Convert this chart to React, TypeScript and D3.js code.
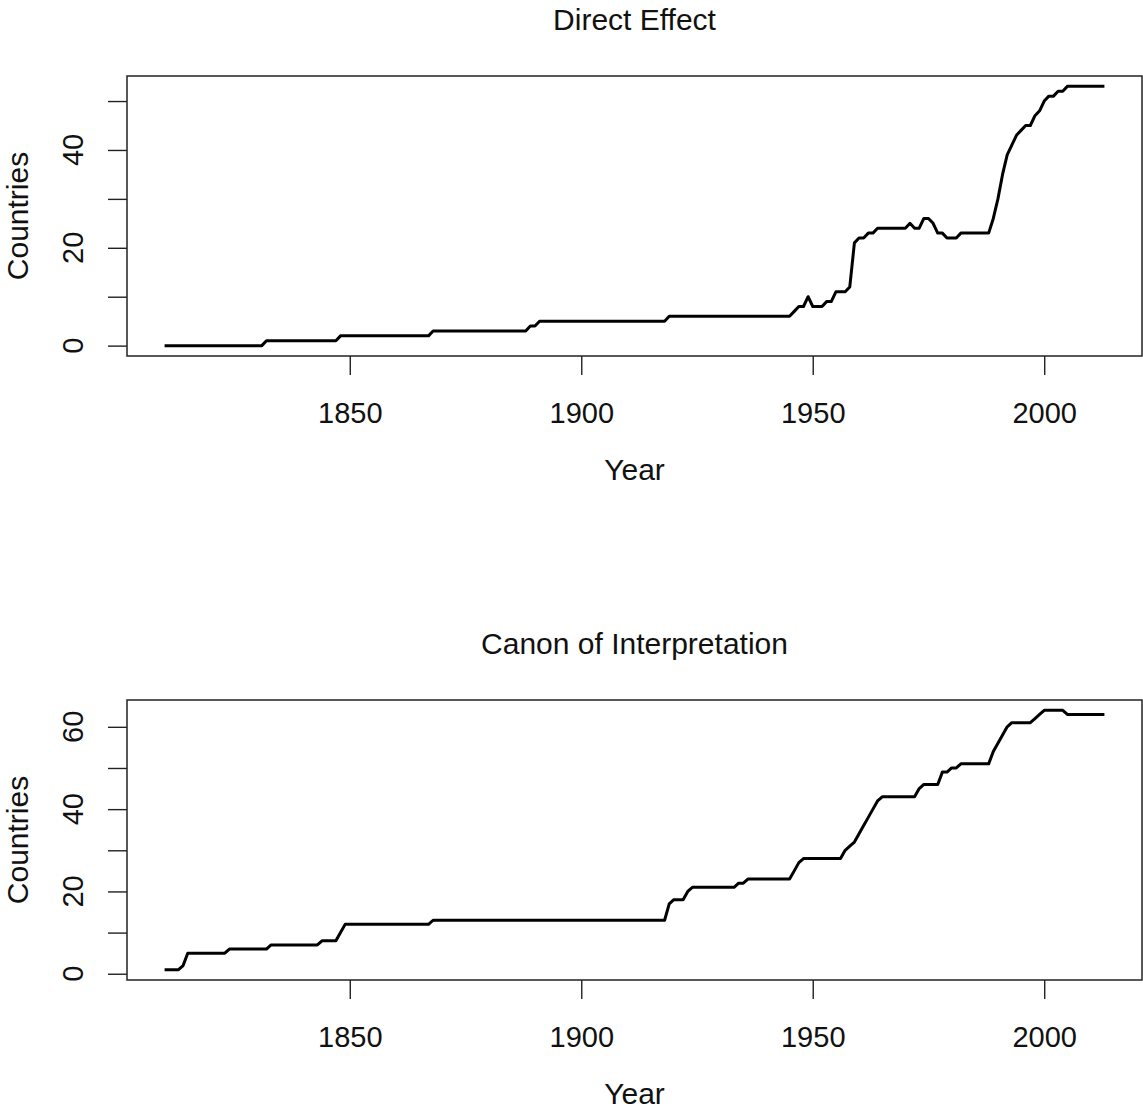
import { useRef, useEffect } from 'react';
import * as d3 from 'd3';

// yearly series, 1810-2013
const firstYear = 1810;
const lastYear = 2013;
const years = d3.range(firstYear, lastYear + 1);

const directEffect = [
  0, 0, 0, 0, 0, 0, 0, 0, 0, 0, // 1810
  0, 0, 0, 0, 0, 0, 0, 0, 0, 0, // 1820
  0, 0, 1, 1, 1, 1, 1, 1, 1, 1, // 1830
  1, 1, 1, 1, 1, 1, 1, 1, 2, 2, // 1840
  2, 2, 2, 2, 2, 2, 2, 2, 2, 2, // 1850
  2, 2, 2, 2, 2, 2, 2, 2, 3, 3, // 1860
  3, 3, 3, 3, 3, 3, 3, 3, 3, 3, // 1870
  3, 3, 3, 3, 3, 3, 3, 3, 3, 4, // 1880
  4, 5, 5, 5, 5, 5, 5, 5, 5, 5, // 1890
  5, 5, 5, 5, 5, 5, 5, 5, 5, 5, // 1900
  5, 5, 5, 5, 5, 5, 5, 5, 5, 6, // 1910
  6, 6, 6, 6, 6, 6, 6, 6, 6, 6, // 1920
  6, 6, 6, 6, 6, 6, 6, 6, 6, 6, // 1930
  6, 6, 6, 6, 6, 6, 7, 8, 8, 10, // 1940
  8, 8, 8, 9, 9, 11, 11, 11, 12, 21, // 1950
  22, 22, 23, 23, 24, 24, 24, 24, 24, 24, // 1960
  24, 25, 24, 24, 26, 26, 25, 23, 23, 22, // 1970
  22, 22, 23, 23, 23, 23, 23, 23, 23, 26, // 1980
  30, 35, 39, 41, 43, 44, 45, 45, 47, 48, // 1990
  50, 51, 51, 52, 52, 53, 53, 53, 53, 53, // 2000
  53, 53, 53, 53, // 2010
];

const canon = [
  1, 1, 1, 1, 2, 5, 5, 5, 5, 5, // 1810
  5, 5, 5, 5, 6, 6, 6, 6, 6, 6, // 1820
  6, 6, 6, 7, 7, 7, 7, 7, 7, 7, // 1830
  7, 7, 7, 7, 8, 8, 8, 8, 10, 12, // 1840
  12, 12, 12, 12, 12, 12, 12, 12, 12, 12, // 1850
  12, 12, 12, 12, 12, 12, 12, 12, 13, 13, // 1860
  13, 13, 13, 13, 13, 13, 13, 13, 13, 13, // 1870
  13, 13, 13, 13, 13, 13, 13, 13, 13, 13, // 1880
  13, 13, 13, 13, 13, 13, 13, 13, 13, 13, // 1890
  13, 13, 13, 13, 13, 13, 13, 13, 13, 13, // 1900
  13, 13, 13, 13, 13, 13, 13, 13, 13, 17, // 1910
  18, 18, 18, 20, 21, 21, 21, 21, 21, 21, // 1920
  21, 21, 21, 21, 22, 22, 23, 23, 23, 23, // 1930
  23, 23, 23, 23, 23, 23, 25, 27, 28, 28, // 1940
  28, 28, 28, 28, 28, 28, 28, 30, 31, 32, // 1950
  34, 36, 38, 40, 42, 43, 43, 43, 43, 43, // 1960
  43, 43, 43, 45, 46, 46, 46, 46, 49, 49, // 1970
  50, 50, 51, 51, 51, 51, 51, 51, 51, 54, // 1980
  56, 58, 60, 61, 61, 61, 61, 61, 62, 63, // 1990
  64, 64, 64, 64, 64, 63, 63, 63, 63, 63, // 2000
  63, 63, 63, 63, // 2010
];

const xTickValues = [1850, 1900, 1950, 2000];
const directTicks = [0, 10, 20, 30, 40, 50];
const directLabels = [0, 20, 40];
const canonTicks = [0, 10, 20, 30, 40, 50, 60];
const canonLabels = [0, 20, 40, 60];

const FONT = '"Liberation Sans", Arial, Helvetica, sans-serif';

interface PanelProps {
  title: string;
  values: number[];
  yTicks: number[];
  yLabels: number[];
  top: number; // y of plot box top
}

const width = 1143;
const height = 1111;
const boxLeft = 127;
const boxRight = 1142;
const boxHeight = 280;

// R-style 4% padding
function padded(lo: number, hi: number): [number, number] {
  const p = (hi - lo) * 0.04;
  return [lo - p, hi + p];
}

function drawPanel(
  svg: d3.Selection<SVGSVGElement, unknown, null, undefined>,
  { title, values, yTicks, yLabels, top }: PanelProps,
) {
  const bottom = top + boxHeight;
  const x = d3.scaleLinear()
    .domain(padded(firstYear, lastYear))
    .range([boxLeft, boxRight]);
  const y = d3.scaleLinear()
    .domain(padded(d3.min(values) ?? 0, d3.max(values) ?? 0))
    .range([bottom, top]);

  const g = svg.append('g');

  // title
  g.append('text')
    .attr('x', (boxLeft + boxRight) / 2)
    .attr('y', top - 46)
    .attr('text-anchor', 'middle')
    .attr('font-size', 30)
    .attr('fill', '#111')
    .text(title);

  // x axis
  const xAxis = g.append('g')
    .attr('transform', `translate(0,${bottom})`)
    .call(d3.axisBottom(x).tickValues(xTickValues).tickSize(19).tickPadding(27).tickFormat(d3.format('d')));
  xAxis.select('.domain').remove();
  xAxis.selectAll('line').attr('stroke', '#222').attr('stroke-width', 1.4);
  xAxis.selectAll('text')
    .attr('font-family', FONT)
    .attr('font-size', 29)
    .attr('fill', '#111');

  // y axis, labels rotated like R
  const yAxis = g.append('g')
    .attr('transform', `translate(${boxLeft},0)`)
    .call(d3.axisLeft(y).tickValues(yTicks).tickSize(19).tickFormat(() => ''));
  yAxis.select('.domain').remove();
  yAxis.selectAll('line').attr('stroke', '#222').attr('stroke-width', 1.4);

  g.selectAll('text.ylab')
    .data(yLabels)
    .join('text')
    .attr('class', 'ylab')
    .attr('transform', d => `translate(83,${y(d)}) rotate(-90)`)
    .attr('text-anchor', 'middle')
    .attr('font-size', 29)
    .attr('fill', '#111')
    .text(d => d);

  // axis titles
  g.append('text')
    .attr('x', (boxLeft + boxRight) / 2)
    .attr('y', bottom + 124)
    .attr('text-anchor', 'middle')
    .attr('font-size', 30)
    .attr('fill', '#111')
    .text('Year');

  g.append('text')
    .attr('transform', `translate(28,${(top + bottom) / 2}) rotate(-90)`)
    .attr('text-anchor', 'middle')
    .attr('font-size', 30)
    .attr('fill', '#111')
    .text('Countries');

  // the series
  const line = d3.line<number>()
    .x((_, i) => x(years[i]))
    .y(d => y(d));

  g.append('path')
    .datum(values)
    .attr('d', line)
    .attr('fill', 'none')
    .attr('stroke', '#000')
    .attr('stroke-width', 3)
    .attr('stroke-linejoin', 'round');

  // box
  g.append('rect')
    .attr('x', boxLeft)
    .attr('y', top)
    .attr('width', boxRight - boxLeft)
    .attr('height', boxHeight)
    .attr('fill', 'none')
    .attr('stroke', '#222')
    .attr('stroke-width', 1.5);
}

export default function App() {
  const svgRef = useRef<SVGSVGElement | null>(null);

  useEffect(() => {
    if (!svgRef.current) return;
    const svg = d3.select(svgRef.current);
    svg.selectAll('*').remove();

    drawPanel(svg, {
      title: 'Direct Effect',
      values: directEffect,
      yTicks: directTicks,
      yLabels: directLabels,
      top: 76,
    });
    drawPanel(svg, {
      title: 'Canon of Interpretation',
      values: canon,
      yTicks: canonTicks,
      yLabels: canonLabels,
      top: 700,
    });
  }, []);

  return (
    <svg
      ref={svgRef}
      width={width}
      height={height}
      style={{ position: 'absolute', left: 0, top: 0, background: '#fff', fontFamily: FONT }}
    />
  );
}
